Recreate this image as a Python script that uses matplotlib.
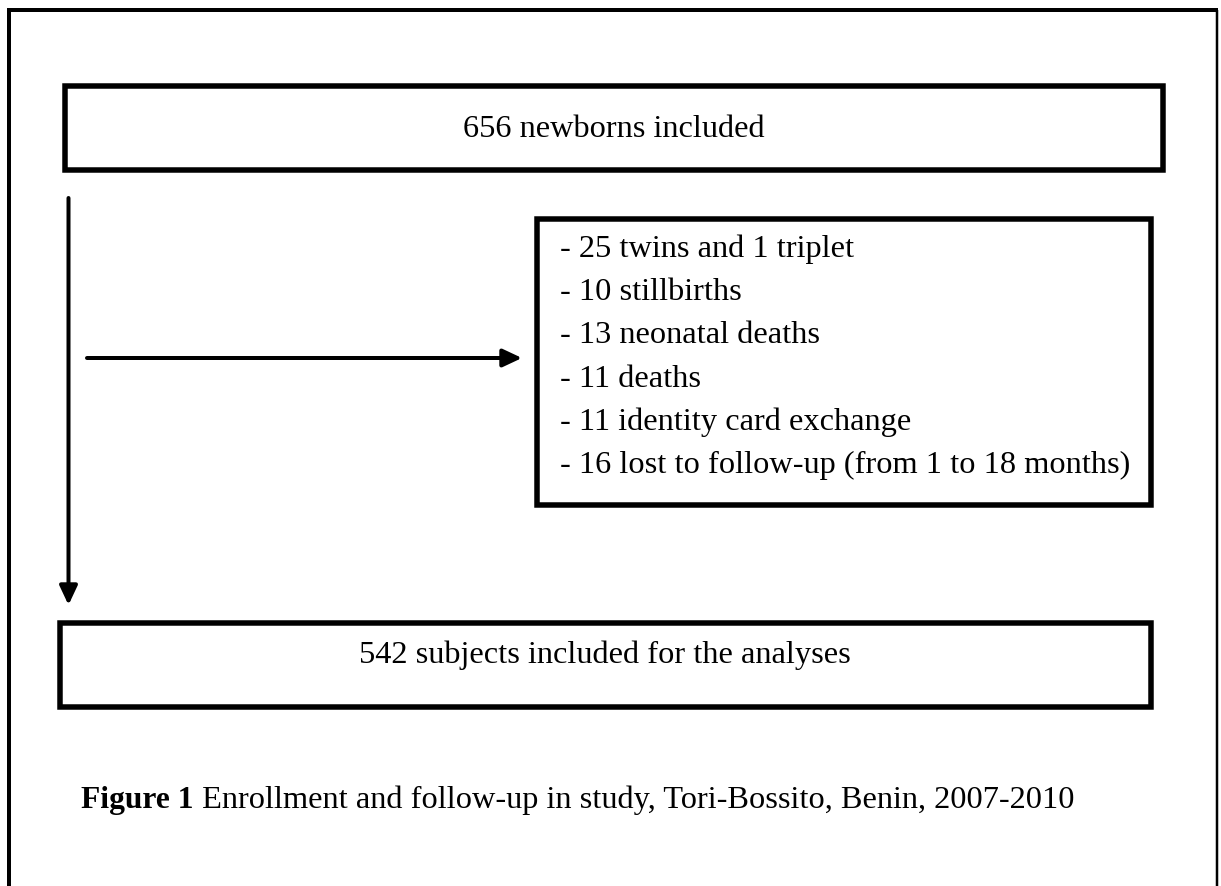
import matplotlib
matplotlib.use('Agg')
import matplotlib.pyplot as plt
from matplotlib.patches import Rectangle, FancyArrowPatch, ArrowStyle

# flowchart text
top_label = '656 newborns included'
excluded_items = [
    '- 25 twins and 1 triplet',
    '- 10 stillbirths',
    '- 13 neonatal deaths',
    '- 11 deaths',
    '- 11 identity card exchange',
    '- 16 lost to follow-up (from 1 to 18 months)',
]
bottom_label = '542 subjects included for the analyses'
caption_bold = 'Figure 1'
caption_text = ' Enrollment and follow-up in study, Tori-Bossito, Benin, 2007-2010'

W, H = 1221, 886
px = 72 / 100  # points per pixel at dpi 100
fs = 23.3

plt.rcParams['font.family'] = ['Liberation Serif', 'DejaVu Serif']

fig = plt.figure(figsize=(W / 100, H / 100), dpi=100)
ax = fig.add_axes([0, 0, 1, 1])
ax.set_xlim(0, W)
ax.set_ylim(H, 0)
ax.axis('off')

# outer frame (left, top, right; bottom is cut off)
ax.plot([9, 9], [10, H + 5], color='black', lw=4 * px, solid_capstyle='butt')
ax.plot([7, 1218], [10, 10], color='black', lw=4 * px, solid_capstyle='butt')
ax.plot([1217, 1217], [10, H + 5], color='black', lw=2.5 * px, solid_capstyle='butt')

box_lw = 5.5 * px


def box(x0, y0, x1, y1):
    ax.add_patch(Rectangle((x0, y0), x1 - x0, y1 - y0, fill=False,
                           edgecolor='black', lw=box_lw, joinstyle='miter'))


# top box
box(64.5, 85.5, 1162.5, 170)
ax.text((64.5 + 1162.5) / 2, 137, top_label, fontsize=fs, ha='center', va='baseline')

# exclusions box
box(537, 218.5, 1151, 505)
for i, item in enumerate(excluded_items):
    ax.text(560, 257 + i * 43.2, item, fontsize=fs, ha='left', va='baseline')

# bottom box
box(59.5, 622.5, 1150.5, 707)
ax.text((59.5 + 1150.5) / 2, 663, bottom_label, fontsize=fs, ha='center', va='baseline')

# arrows
style = ArrowStyle('-|>', head_length=16 * px, head_width=7.5 * px)
ax.add_patch(FancyArrowPatch((68.5, 198), (68.5, 605), arrowstyle=style,
                             mutation_scale=1, lw=4 * px, color='black',
                             shrinkA=0, shrinkB=0))
ax.add_patch(FancyArrowPatch((87, 358), (522, 358), arrowstyle=style,
                             mutation_scale=1, lw=4 * px, color='black',
                             shrinkA=0, shrinkB=0))

# caption
t1 = ax.text(81, 808, caption_bold, fontsize=22.7, fontweight='bold',
             ha='left', va='baseline')
ax.annotate(caption_text, xy=(1, 0), xycoords=t1, fontsize=fs,
            ha='left', va='bottom')

fig.savefig('out.png', dpi=100, facecolor='white')
plt.close(fig)
